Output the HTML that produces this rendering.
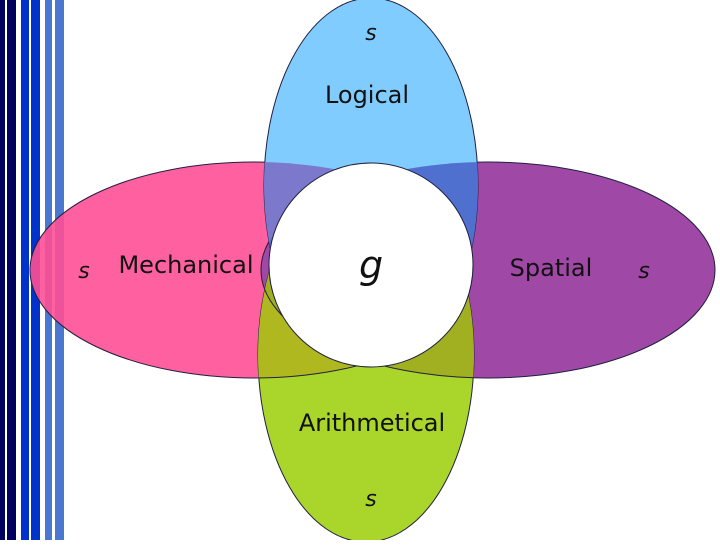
<!DOCTYPE html><html><head><style>body{margin:0;width:720px;height:540px;overflow:hidden;background:#fff}</style></head><body>
<svg width="720" height="540" xmlns="http://www.w3.org/2000/svg" font-family="DejaVu Sans, Liberation Sans, sans-serif">
<defs>
<clipPath id="cT"><ellipse cx="371" cy="185" rx="107" ry="187"/></clipPath>
<clipPath id="cB"><ellipse cx="366" cy="355" rx="108" ry="187"/></clipPath>
</defs>
<rect x="0" y="0" width="5" height="540" fill="#000060"/>
<rect x="7" y="0" width="9" height="540" fill="#000060"/>
<rect x="21" y="0" width="8" height="540" fill="#0033cc"/>
<rect x="31" y="0" width="9" height="540" fill="#0033cc"/>
<rect x="45" y="0" width="7" height="540" fill="#4a78d0"/>
<rect x="55" y="0" width="9" height="540" fill="#4a78d0"/>
<ellipse cx="254" cy="270" rx="224" ry="108" fill="#ff4f95" fill-opacity="0.9" stroke="#202040" stroke-width="1"/>
<ellipse cx="488" cy="270" rx="227" ry="108" fill="#a048a6" stroke="#202040" stroke-width="1"/>
<ellipse cx="371" cy="185" rx="107" ry="187" fill="#80ccff" stroke="#202040" stroke-width="1"/>
<g clip-path="url(#cT)">
<ellipse cx="254" cy="270" rx="224" ry="108" fill="#7c78cc"/>
<ellipse cx="488" cy="270" rx="227" ry="108" fill="#5070d0"/>
</g>
<ellipse cx="366" cy="355" rx="108" ry="187" fill="#aad52a" stroke="#202040" stroke-width="1"/>
<g clip-path="url(#cB)">
<ellipse cx="254" cy="270" rx="224" ry="108" fill="#b0b820" stroke="#202040"/>
<ellipse cx="488" cy="270" rx="227" ry="108" fill="#a0b020" stroke="#202040"/>
</g>
<circle cx="371" cy="265" r="102" fill="#fff" stroke="#202040" stroke-width="1"/>
<g font-size="24" fill="#111">
<text x="371" y="40" text-anchor="middle" font-style="italic" font-size="22">s</text>
<text x="367" y="103" text-anchor="middle">Logical</text>
<text x="186" y="273" text-anchor="middle">Mechanical</text>
<text x="84" y="278" text-anchor="middle" font-style="italic" font-size="22">s</text>
<text x="371" y="278" text-anchor="middle" font-style="italic" font-size="38">g</text>
<text x="551" y="276" text-anchor="middle">Spatial</text>
<text x="644" y="278" text-anchor="middle" font-style="italic" font-size="22">s</text>
<text x="372" y="431" text-anchor="middle">Arithmetical</text>
<text x="371" y="506" text-anchor="middle" font-style="italic" font-size="22">s</text>
</g>
</svg>
</body></html>
